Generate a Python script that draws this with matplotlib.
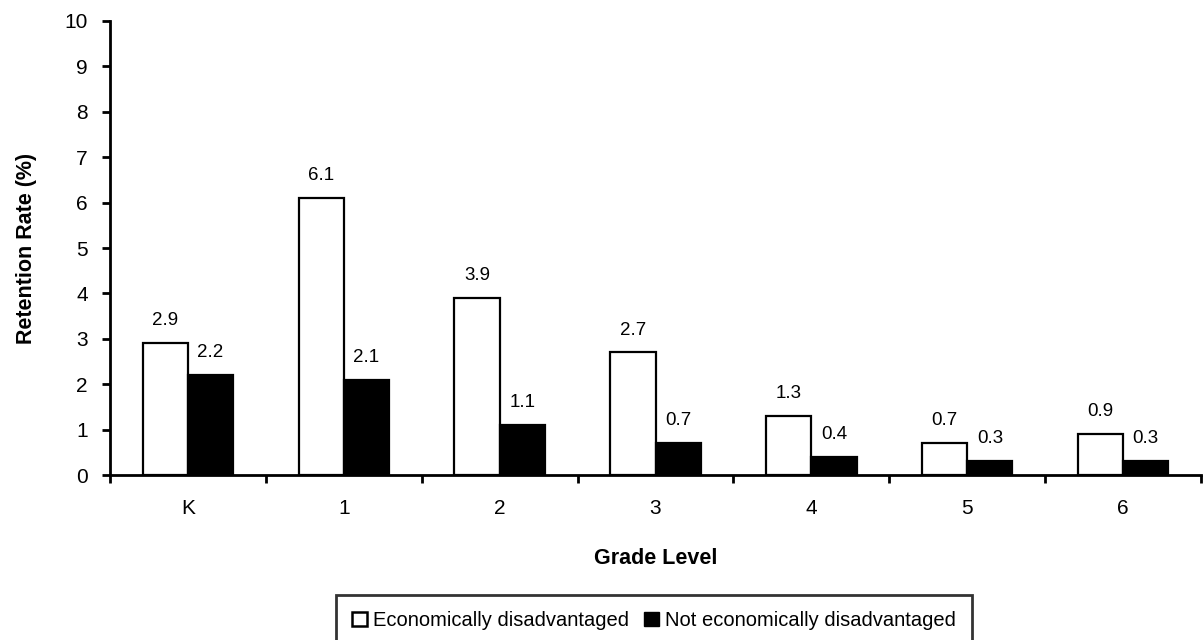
import numpy as np
import matplotlib.pyplot as plt
from matplotlib.patches import Patch

plt.rcParams['font.family'] = ['Liberation Sans', 'DejaVu Sans']

grades = ["K", "1", "2", "3", "4", "5", "6"]
econ_dis = [2.9, 6.1, 3.9, 2.7, 1.3, 0.7, 0.9]
not_econ_dis = [2.2, 2.1, 1.1, 0.7, 0.4, 0.3, 0.3]

fig = plt.figure(figsize=(12.03, 6.4), dpi=100)
ax = fig.add_axes([0.0914, 0.2578, 0.907, 0.7094])

x = np.arange(len(grades))
w = 0.29
ax.bar(x - w / 2, econ_dis, w, color="white", edgecolor="black", linewidth=1.6)
ax.bar(x + w / 2, not_econ_dis, w, color="black", edgecolor="black", linewidth=1.6)

# value labels above every bar
for xi, v in zip(x - w / 2, econ_dis):
    ax.annotate(f"{v}", (xi, v), xytext=(0, 10), textcoords="offset points",
                ha="center", va="bottom", fontsize=13.5)
for xi, v in zip(x + w / 2, not_econ_dis):
    ax.annotate(f"{v}", (xi, v), xytext=(0, 10), textcoords="offset points",
                ha="center", va="bottom", fontsize=13.5)

ax.set_xlim(-0.5, len(grades) - 0.5)
ax.set_ylim(0, 10)
ax.set_yticks(range(0, 11))
ax.set_xticks(x)
ax.set_xticklabels(grades)
ax.set_xticks(np.arange(-0.5, len(grades)), minor=True)
ax.tick_params(axis="x", which="major", length=0, pad=17, labelsize=15)
ax.tick_params(axis="x", which="minor", length=6, width=2, direction="out")
ax.tick_params(axis="y", length=6, width=2, direction="out", pad=10, labelsize=15)

for s in ["top", "right"]:
    ax.spines[s].set_visible(False)
for s in ["left", "bottom"]:
    ax.spines[s].set_linewidth(2)

ax.set_xlabel("Grade Level", fontsize=15.5, fontweight="bold", labelpad=22)
ax.set_ylabel("Retention Rate (%)", fontsize=15.5, fontweight="bold", labelpad=20)

handles = [Patch(facecolor="white", edgecolor="black", linewidth=1.8),
           Patch(facecolor="black", edgecolor="black")]
leg = fig.legend(handles, ["Economically disadvantaged", "Not economically disadvantaged"],
                 loc="upper center", bbox_to_anchor=(0.5436, 0.0703), ncol=2, fontsize=14.5,
                 frameon=True, fancybox=False, edgecolor="black", handlelength=0.75,
                 handleheight=0.75, handletextpad=0.3, columnspacing=0.75, borderpad=0.8,
                 borderaxespad=0)
leg.get_frame().set_linewidth(2)

fig.savefig("out.png", dpi=100)
